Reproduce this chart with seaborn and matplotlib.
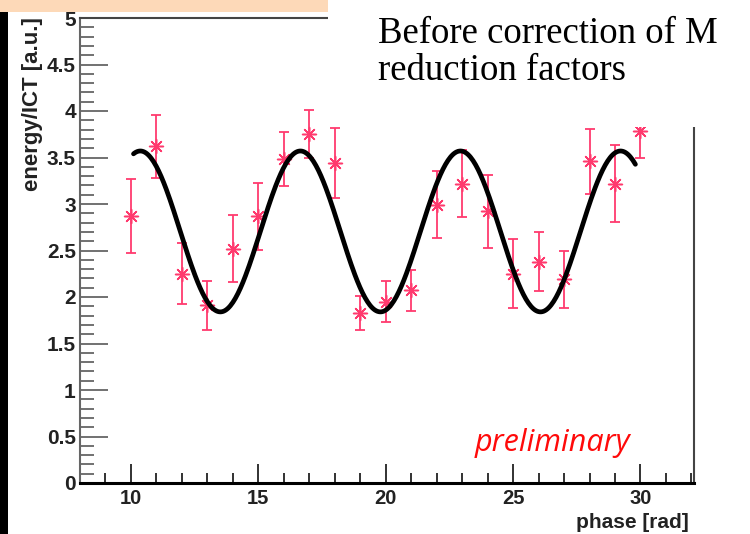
import numpy as np
import pandas as pd
import matplotlib
matplotlib.use("Agg")
import matplotlib.pyplot as plt
from matplotlib.patches import Rectangle
from matplotlib.ticker import MultipleLocator
import seaborn as sns

# ------------------------------------------------------------------ #
# data
# ------------------------------------------------------------------ #
phase = [10, 11, 12, 13, 14, 15, 16, 17, 18, 19, 20,
         21, 22, 23, 24, 25, 26, 27, 28, 29, 30]
energy = [2.87, 3.62, 2.25, 1.91, 2.52, 2.87, 3.48, 3.75, 3.44, 1.83, 1.95,
          2.07, 2.99, 3.22, 2.92, 2.25, 2.38, 2.19, 3.46, 3.22, 3.78]
energy_err = [0.40, 0.34, 0.33, 0.26, 0.36, 0.36, 0.29, 0.26, 0.38, 0.18, 0.22,
              0.22, 0.36, 0.36, 0.39, 0.37, 0.32, 0.31, 0.35, 0.41, 0.28]

# cosine fit drawn in the original (ROOT TF1): p0 + p1*cos(x - p2)
fit_offset = 2.705
fit_amp = 0.865
fit_peak = 16.65
fit_range = (10.1, 29.8)

pink = "#ff3a6e"

sns.set_style("white")
plt.rcParams["font.family"] = ["Liberation Sans", "DejaVu Sans"]

fig = plt.figure(figsize=(7.5, 5.34), dpi=100)
ax = fig.add_axes([80 / 750, 51 / 534, 614 / 750, 465 / 534])

df = pd.DataFrame({"phase": phase, "energy": energy, "err": energy_err})

ax.errorbar(df["phase"], df["energy"], yerr=df["err"], fmt="none",
            ecolor=pink, elinewidth=1.3, capsize=3.5, capthick=1.3, zorder=2)
sns.scatterplot(data=df, x="phase", y="energy", ax=ax, marker=(8, 2, 0),
                s=100, color=pink, edgecolor=pink, linewidth=1.1, zorder=3)

xf = np.linspace(fit_range[0], fit_range[1], 400)
fit = pd.DataFrame({"phase": xf,
                    "energy": fit_offset + fit_amp * np.cos(xf - fit_peak)})
sns.lineplot(data=fit, x="phase", y="energy", ax=ax, color="black",
             linewidth=3.4, zorder=4)

ax.set_xlim(8, 32.1)
ax.set_ylim(0, 5)
ax.xaxis.set_major_locator(MultipleLocator(5))
ax.xaxis.set_minor_locator(MultipleLocator(1))
ax.yaxis.set_major_locator(MultipleLocator(0.5))
ax.yaxis.set_minor_locator(MultipleLocator(0.1))
ax.set_xticks([10, 15, 20, 25, 30])
ax.set_yticks(np.arange(0, 5.01, 0.5))
ax.set_yticklabels(["0", "0.5", "1", "1.5", "2", "2.5", "3", "3.5", "4", "4.5", "5"])

ax.tick_params(axis="both", which="both", direction="in",
               bottom=True, left=True, top=False, right=False)
ax.tick_params(axis="x", which="major", length=14, width=1.3, color="#222",
               labelsize=14.5, pad=4)
ax.tick_params(axis="x", which="minor", length=7, width=1.3, color="#222")
ax.tick_params(axis="y", which="major", length=20, width=1.3, color="#666",
               labelsize=15, pad=3)
ax.tick_params(axis="y", which="minor", length=10, width=1.3, color="#666")
for lab in ax.get_xticklabels() + ax.get_yticklabels():
    lab.set_fontweight("bold")
    lab.set_color("#222")

ax.set_xlabel("")
ax.set_ylabel("")
for side in ["top", "right"]:
    ax.spines[side].set_color("#444")
    ax.spines[side].set_linewidth(1.5)
ax.spines["left"].set_color("#666")
ax.spines["left"].set_linewidth(1.5)
ax.spines["bottom"].set_color("black")
ax.spines["bottom"].set_linewidth(2.2)

fig.text(33 / 750, 1 - 17 / 534, "energy/ICT [a.u.]", rotation=90,
         ha="center", va="top", fontsize=16, fontweight="bold", color="#222")
fig.text(689 / 750, 1 - 522 / 534, "phase [rad]", ha="right", va="center",
         fontsize=15, fontweight="bold", color="#222")

ax.text(0.896, 0.086, "preliminary", transform=ax.transAxes, ha="right",
        va="center", fontsize=22, style="italic", color="#ff0a0a",
        family=["Open Sans", "DejaVu Sans"])

# slide overlays: white title box, orange strip, black edge
fig.add_artist(Rectangle((328 / 750, 1 - 127 / 534), 422 / 750, 127 / 534,
                         transform=fig.transFigure, facecolor="white",
                         edgecolor="none", zorder=5))
fig.add_artist(Rectangle((0, 1 - 12 / 534), 328 / 750, 12 / 534,
                         transform=fig.transFigure, facecolor="#fdd9b8",
                         edgecolor="none", zorder=5))
fig.add_artist(Rectangle((0, 0), 8 / 750, 1 - 12 / 534,
                         transform=fig.transFigure, facecolor="black",
                         edgecolor="none", zorder=5))
fig.text(378 / 750, 1 - 43 / 534, "Before correction of M", ha="left",
         va="baseline", fontsize=26.5, color="black",
         family=["Liberation Serif", "DejaVu Serif"], zorder=6)
fig.text(378 / 750, 1 - 80 / 534, "reduction factors", ha="left",
         va="baseline", fontsize=26.5, color="black",
         family=["Liberation Serif", "DejaVu Serif"], zorder=6)

fig.savefig("out.png", dpi=100, facecolor="white")
